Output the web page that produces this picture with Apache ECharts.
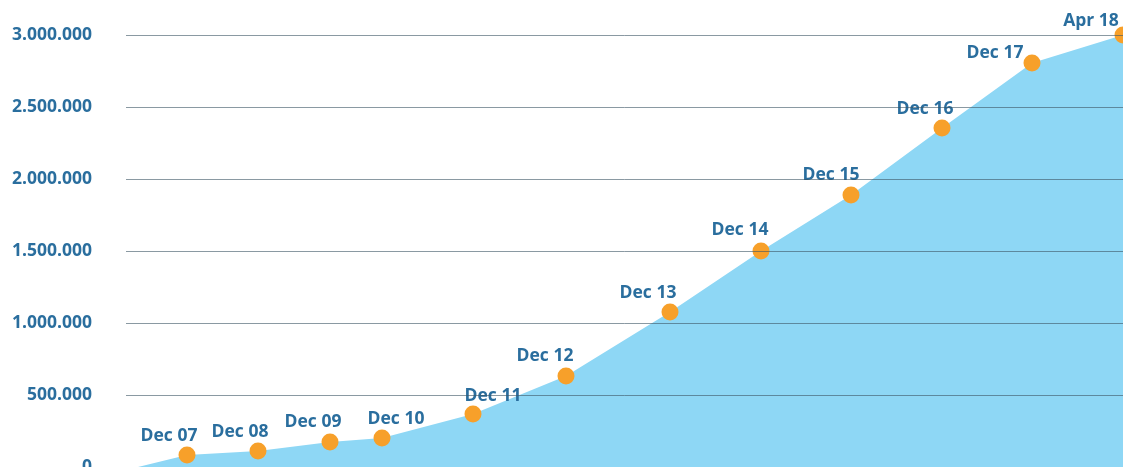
<!DOCTYPE html>
<html>
<head>
<meta charset="utf-8">
<script src="https://cdn.jsdelivr.net/npm/echarts@6/dist/echarts.min.js"></script>
<style>
  html, body { margin: 0; padding: 0; background: #fff; }
  #chart { width: 1123px; height: 467px; }
</style>
</head>
<body>
<div id="chart"></div>
<script>
// time position of each point along the (hidden) x axis, arbitrary units
const timeline = [12, 61, 132, 204, 256, 347, 440, 544, 635, 725, 816, 906, 997]
const labels = ['', 'Dec 07', 'Dec 08', 'Dec 09', 'Dec 10', 'Dec 11', 'Dec 12', 'Dec 13', 'Dec 14', 'Dec 15', 'Dec 16', 'Dec 17', 'Apr 18']
const values = [0, 83000, 111000, 174000, 201000, 368000, 632000, 1076000, 1500000, 1889000, 2354000, 2806000, 3000000]
const yTicks = [0, 500000, 1000000, 1500000, 2000000, 2500000, 3000000]

// label nudges [dx, dy] so the text sits like in the original
const labelOffsets = [
  [0, 0], [-18, 0], [-18, 0], [-17, 0], [14, 0], [20, 2], [-21, 0],
  [-22, 0], [-21, -1], [-20, 0], [-17, 0], [-37, 10], [-32, 6]
]

const blue = '#2a6e9e'
const chart = echarts.init(document.getElementById('chart'))

const fmt = v => String(v).replace(/\B(?=(\d{3})+(?!\d))/g, '.')

const seriesData = values.map((v, i) => {
  const item = { value: [timeline[i], v], name: labels[i] }
  if (i === 0) {
    item.symbol = 'none'
    item.label = { show: false }
  } else {
    item.label = { offset: labelOffsets[i] }
  }
  return item
})

chart.setOption({
  animation: false,
  grid: { left: 126, right: 0, top: 35, bottom: 0, outerBoundsMode: 'none', containLabel: false },
  xAxis: {
    type: 'value',
    min: 0,
    max: 997,
    show: false
  },
  yAxis: {
    type: 'value',
    min: yTicks[0],
    max: yTicks[yTicks.length - 1],
    interval: 500000,
    z: 5,
    axisLine: { show: false },
    axisTick: { show: false },
    axisLabel: {
      margin: 34,
      color: blue,
      fontFamily: 'Open Sans',
      fontWeight: 'bold',
      fontSize: 17.5,
      formatter: fmt
    },
    splitLine: {
      lineStyle: { color: 'rgba(60, 85, 100, 0.6)', width: 1 }
    }
  },
  series: [{
    type: 'line',
    data: seriesData,
    smooth: false,
    symbol: 'circle',
    symbolSize: 17,
    itemStyle: { color: '#f7a02a' },
    lineStyle: { width: 0 },
    areaStyle: { color: '#8ed7f5', opacity: 1 },
    label: {
      show: true,
      position: 'top',
      distance: 2,
      formatter: p => p.name,
      color: blue,
      fontFamily: 'Open Sans',
      fontWeight: 'bold',
      fontSize: 17.5
    }
  }]
})
</script>
</body>
</html>
